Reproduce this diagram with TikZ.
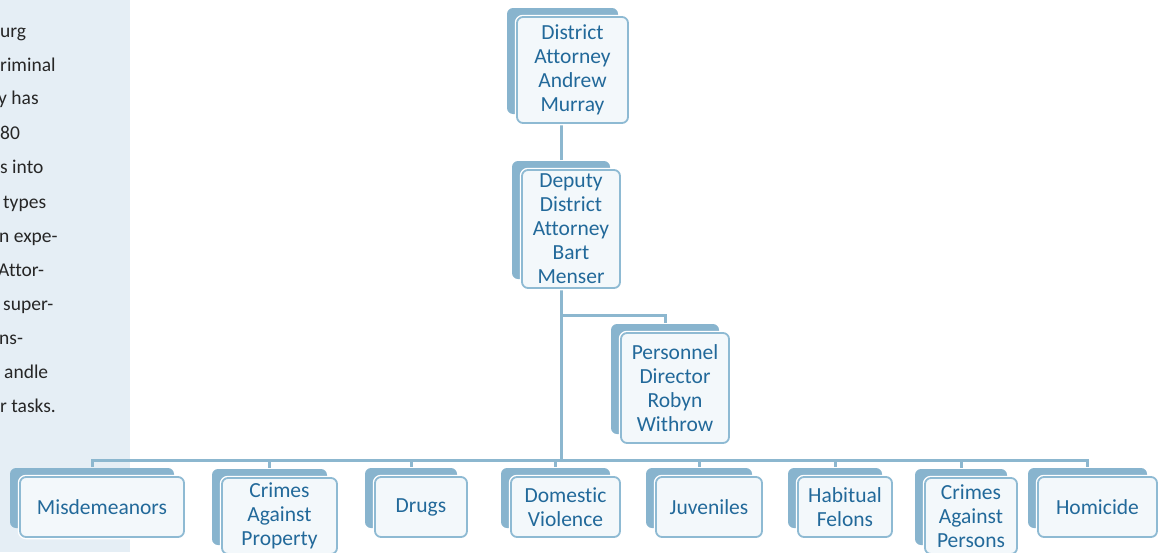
\documentclass[tikz,border=0pt]{standalone}
\usepackage{fontspec}
\setmainfont{Carlito}[Ligatures=NoCommon]
\usetikzlibrary{shadows, backgrounds}

\definecolor{panelbg}{HTML}{E5EEF5}
\definecolor{shadeblue}{HTML}{88B4CE}
\definecolor{edgeblue}{HTML}{8EBAD3}
\definecolor{cardfill}{HTML}{F3F8FB}
\definecolor{inkblue}{HTML}{22699A}
\definecolor{linkblue}{HTML}{8CB7CF}

\begin{document}
\begin{tikzpicture}[
    x=1pt, y=-1pt,
    card/.style={draw=edgeblue, line width=1.8pt, fill=cardfill, rounded corners=6pt,
                 text=inkblue, align=center, inner sep=0pt,
                 font=\fontsize{21.5}{24}\selectfont,
                 general shadow={shadow xshift=-10pt, shadow yshift=9pt, fill=shadeblue},
                 preaction={draw=white, line width=4.5pt}},
    link/.style={draw=linkblue, line width=3pt},
    sidetxt/.style={anchor=mid west, inner sep=0pt, text=black!85,
                    font=\fontsize{19.5}{22}\selectfont},
]
    \useasboundingbox (0,0) rectangle (1165,552);

    %==================== TOP ====================
    \node[card, minimum width=111pt, minimum height=106pt] (da) at (572.5,70)
        {District\\Attorney\\Andrew\\Murray};
    \node[card, minimum width=98pt, minimum height=118pt] (dep) at (571,229)
        {Deputy\\District\\Attorney\\Bart\\Menser};
    \node[card, minimum width=108pt, minimum height=110pt] (per) at (675,388)
        {Personnel\\Director\\Robyn\\Withrow};

    %==================== UNITS (bottom row) ====================
    \node[card, minimum width=164pt, minimum height=60pt] (mis) at (102,507) {Misdemeanors};
    \node[card, minimum width=115pt, minimum height=76pt] (cap) at (279.5,516)
        {Crimes\\Against\\Property};
    \node[card, minimum width=92pt, minimum height=60pt] (drg) at (421,507) {Drugs};
    \node[card, minimum width=109pt, minimum height=60pt] (dvl) at (565.5,507)
        {Domestic\\Violence};
    \node[card, minimum width=106pt, minimum height=60pt] (juv) at (709,507) {Juveniles};
    \node[card, minimum width=94pt, minimum height=60pt] (hfl) at (845,507)
        {Habitual\\Felons};
    \node[card, minimum width=92pt, minimum height=76pt] (cpe) at (971,516)
        {Crimes\\Against\\Persons};
    \node[card, minimum width=119pt, minimum height=60pt] (hom) at (1097.5,507) {Homicide};

    %==================== side column text (cut off at the left) ====================
    \node[sidetxt] (s1) at (0,35) {urg};
    \node[sidetxt] (s2) at (0,69) {riminal};
    \node[sidetxt] (s3) at (-2,102) {y has};
    \node[sidetxt] (s4) at (0,137) {80};
    \node[sidetxt] (s5) at (0,171) {s into};
    \node[sidetxt] (s6) at (3,206) {types};
    \node[sidetxt] (s7) at (-1,240) {n expe-};
    \node[sidetxt] (s8) at (-2,274) {Attor-};
    \node[sidetxt] (s9) at (3,308) {super-};
    \node[sidetxt] (s10) at (-1,342) {ns-};
    \node[sidetxt] (s11) at (4,376) {andle};
    \node[sidetxt] (s12) at (0,410) {r tasks.};

    %==================== connectors ====================
    \begin{scope}[on background layer]
        \fill[panelbg] (0,0) rectangle (130,552);

        \draw[link] ([xshift=-10pt, yshift=9pt]dep.north) -- ([xshift=-10pt]dep.north |- da.south);
        \draw[link] ([xshift=-10pt]dep.south) -- ++(0,27) -| ([xshift=-10pt, yshift=9pt]per.north);

        \coordinate (bus) at ([xshift=-10pt]dep.south |- 0,460);
        \draw[link] ([xshift=-10pt]dep.south) -- (bus);
        \draw[link] (bus) -| ([xshift=-10pt, yshift=9pt]mis.north);
        \draw[link] (bus) -| ([xshift=-10pt, yshift=9pt]cap.north);
        \draw[link] (bus) -| ([xshift=-10pt, yshift=9pt]drg.north);
        \draw[link] (bus) -| ([xshift=-10pt, yshift=9pt]dvl.north);
        \draw[link] (bus) -| ([xshift=-10pt, yshift=9pt]juv.north);
        \draw[link] (bus) -| ([xshift=-10pt, yshift=9pt]hfl.north);
        \draw[link] (bus) -| ([xshift=-10pt, yshift=9pt]cpe.north);
        \draw[link] (bus) -| ([xshift=-10pt, yshift=9pt]hom.north);
    \end{scope}

\end{tikzpicture}
\end{document}
